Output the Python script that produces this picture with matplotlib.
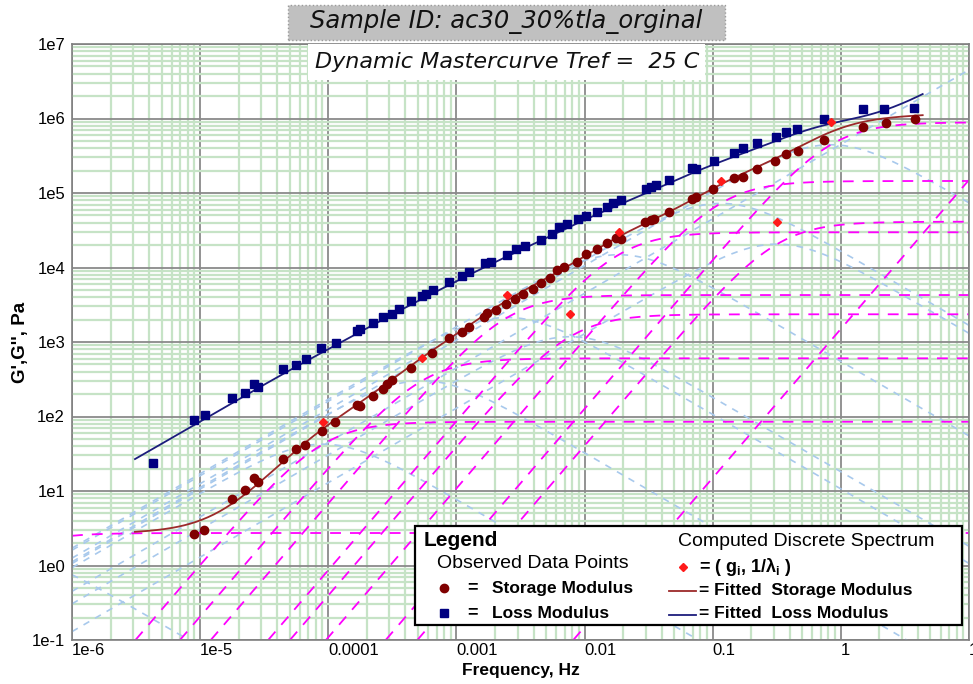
import numpy as np
import matplotlib
matplotlib.use("Agg")
import matplotlib.pyplot as plt
from matplotlib.patches import Rectangle
from matplotlib.lines import Line2D
from matplotlib.ticker import FixedLocator, FixedFormatter, LogLocator, NullFormatter

# ---------------- data ----------------
loss_freq = [4.31e-6, 8.97e-6, 1.09e-5, 1.77e-5, 2.22e-5, 2.64e-5, 2.81e-5, 4.43e-5, 5.62e-5, 6.65e-5,
             8.81e-5, 1.14e-4, 1.69e-4, 1.78e-4, 2.22e-4, 2.67e-4, 3.15e-4, 3.54e-4, 4.45e-4, 5.40e-4,
             5.84e-4, 6.58e-4, 8.81e-4, 1.11e-3, 1.25e-3, 1.66e-3, 1.85e-3, 2.46e-3, 2.94e-3, 3.40e-3,
             4.53e-3, 5.60e-3, 6.30e-3, 7.33e-3, 8.87e-3, 1.02e-2, 1.26e-2, 1.49e-2, 1.67e-2, 1.91e-2,
             3.00e-2, 3.28e-2, 3.59e-2, 4.56e-2, 6.93e-2, 7.36e-2, 0.102, 0.147, 0.171, 0.223,
             0.310, 0.372, 0.453, 0.741, 1.48, 2.18, 3.74]
loss_mod = [24.0, 89.8, 105, 179, 205, 270, 247, 430, 491, 597,
            823, 961, 1419, 1510, 1816, 2146, 2355, 2748, 3581, 4143,
            4406, 4989, 6383, 7690, 8630, 11400, 11750, 14700, 17700, 19400,
            23400, 27900, 35300, 38000, 44400, 49100, 56100, 65500, 72800, 80500,
            113000, 122000, 128000, 149000, 215000, 208000, 271000, 347000, 398000, 473000,
            570000, 665000, 723000, 976000, 1.33e6, 1.34e6, 1.37e6]

storage_freq = [8.88e-6, 1.08e-5, 1.77e-5, 2.22e-5, 2.65e-5, 2.83e-5, 4.45e-5, 5.62e-5, 6.64e-5, 8.87e-5,
                1.12e-4, 1.69e-4, 1.78e-4, 2.22e-4, 2.67e-4, 2.88e-4, 3.15e-4, 4.45e-4, 6.46e-4, 8.81e-4,
                1.11e-3, 1.25e-3, 1.63e-3, 1.74e-3, 2.02e-3, 2.42e-3, 2.84e-3, 3.28e-3, 3.93e-3, 4.61e-3,
                5.42e-3, 6.12e-3, 6.89e-3, 8.77e-3, 1.02e-2, 1.24e-2, 1.49e-2, 1.75e-2, 1.91e-2, 2.96e-2,
                3.28e-2, 3.47e-2, 4.56e-2, 6.93e-2, 7.36e-2, 0.101, 0.147, 0.171, 0.223, 0.305,
                0.372, 0.459, 0.741, 1.48, 2.25, 3.78]
storage_mod = [2.65, 3.00, 7.74, 10.3, 14.9, 13.3, 27.2, 37.0, 41.4, 63.3,
               84.4, 143, 140, 190, 232, 273, 309, 452, 718, 1122,
               1374, 1604, 2146, 2427, 2690, 3236, 3776, 4406, 5145, 6194,
               7161, 9250, 10300, 12000, 15200, 17500, 21100, 24700, 23900, 40400,
               43400, 45200, 56100, 83000, 88300, 113000, 157000, 166000, 208000, 269000,
               334000, 366000, 514000, 776000, 863000, 976000]

# computed discrete spectrum (g_i, 1/lambda_i)
spec_freq = [3.0e-7, 9.1e-5, 5.4e-4, 2.5e-3, 7.7e-3, 1.85e-2, 0.1155, 0.318, 0.836, 300.0]
spec_g = [2.73, 85, 604, 4270, 2355, 29700, 145000, 41200, 889000, 1.35e8]

fit_freq_range = [3.1e-6, 4.35]

xtick_vals = [1e-6, 1e-5, 1e-4, 1e-3, 1e-2, 1e-1, 1, 10]
xtick_labels = ["1e-6", "1e-5", "0.0001", "0.001", "0.01", "0.1", "1", "10"]
ytick_vals = [1e-1, 1e0, 1e1, 1e2, 1e3, 1e4, 1e5, 1e6, 1e7]
ytick_labels = ["1e-1", "1e0", "1e1", "1e2", "1e3", "1e4", "1e5", "1e6", "1e7"]

title_text = "Sample ID: ac30_30%tla_orginal"
subtitle_text = "Dynamic Mastercurve Tref =  25 C"
xlabel_text = "Frequency, Hz"
ylabel_text = "G',G'', Pa"

# ---------------- figure ----------------
W, H = 973, 684
fig = plt.figure(figsize=(W / 100, H / 100), dpi=100)
fig.patch.set_facecolor("white")


def fx(x):
    return x / W


def fy(y):
    return 1 - y / H


ax = fig.add_axes([fx(72), fy(640), (969 - 72) / W, (640 - 44) / H])
ax.set_xscale("log")
ax.set_yscale("log")
ax.set_xlim(1e-6, 10)
ax.set_ylim(0.1, 1e7)

ax.xaxis.set_major_locator(FixedLocator(xtick_vals))
ax.xaxis.set_major_formatter(FixedFormatter(xtick_labels))
ax.yaxis.set_major_locator(FixedLocator(ytick_vals))
ax.yaxis.set_major_formatter(FixedFormatter(ytick_labels))
ax.xaxis.set_minor_locator(LogLocator(base=10, subs=np.arange(2, 10), numticks=100))
ax.yaxis.set_minor_locator(LogLocator(base=10, subs=np.arange(2, 10), numticks=100))
ax.xaxis.set_minor_formatter(NullFormatter())
ax.yaxis.set_minor_formatter(NullFormatter())
ax.set_axisbelow(True)
ax.grid(which="minor", color="#c6e3c6", lw=1.6)
ax.grid(which="major", color="#8a8a8a", lw=1.3)
ax.tick_params(which="both", length=0)
ax.tick_params(axis="x", pad=2, labelsize=12)
ax.tick_params(axis="y", pad=5, labelsize=12)
for lbl in ax.get_xticklabels():
    lbl.set_horizontalalignment("left")
    lbl.set_fontfamily("Liberation Sans")
for lbl in ax.get_yticklabels():
    lbl.set_fontfamily("Liberation Sans")
for s in ax.spines.values():
    s.set_color("#808080")
    s.set_linewidth(1.2)

# individual Maxwell mode contributions
f_all = np.logspace(-6, 1, 500)
for g, fi in zip(spec_g, spec_freq):
    r = f_all / fi
    ax.plot(f_all, g * r / (1 + r ** 2), color="#a8c9ec", lw=1.2, ls=(0, (4, 4)), zorder=2)
for g, fi in zip(spec_g, spec_freq):
    r = f_all / fi
    ax.plot(f_all, g * r ** 2 / (1 + r ** 2), color="#ff00ff", lw=1.3, ls=(0, (6, 5)), zorder=2.2)

# fitted curves = sum of modes
ff = np.logspace(np.log10(fit_freq_range[0]), np.log10(fit_freq_range[1]), 400)
gp_fit = np.zeros_like(ff)
gpp_fit = np.zeros_like(ff)
for g, fi in zip(spec_g, spec_freq):
    r = ff / fi
    gp_fit += g * r ** 2 / (1 + r ** 2)
    gpp_fit += g * r / (1 + r ** 2)
ax.plot(ff, gp_fit, color="#9c2a2a", lw=1.3, zorder=3)
ax.plot(ff, gpp_fit, color="#1c1c7c", lw=1.3, zorder=3)

# observed data
ax.plot(storage_freq, storage_mod, ls="none", marker="o", ms=6, color="#800000", zorder=4)
ax.plot(loss_freq, loss_mod, ls="none", marker="s", ms=6.3, color="#000080", zorder=4)
ax.plot(spec_freq, spec_g, ls="none", marker="D", ms=4.2, color="#ff1a1a", zorder=5)

ax.set_xlabel(xlabel_text, fontsize=12.5, fontweight="bold", family="Liberation Sans", labelpad=4)
ax.set_ylabel(ylabel_text, fontsize=13.5, fontweight="bold", family="Liberation Sans", labelpad=2)

# ---------------- title boxes ----------------
fig.patches.append(Rectangle((fx(288), fy(40)), (725 - 288) / W, 35 / H, transform=fig.transFigure,
                             facecolor="#c0c0c0", edgecolor="#9a9a9a", lw=1, ls=":", zorder=5))
fig.text(fx(506), fy(22), title_text, ha="center", va="center", fontsize=17.5,
         style="italic", family="DejaVu Sans", color="#111111", zorder=6)

fig.patches.append(Rectangle((fx(308), fy(80)), (705 - 308) / W, 36 / H, transform=fig.transFigure,
                             facecolor="white", edgecolor="none", zorder=5))
fig.text(fx(507), fy(62), subtitle_text, ha="center", va="center", fontsize=16,
         style="italic", family="DejaVu Sans", color="#111111", zorder=6)

# ---------------- legend box ----------------
fig.patches.append(Rectangle((fx(415), fy(625)), (962 - 415) / W, (625 - 526) / H, transform=fig.transFigure,
                             facecolor="white", edgecolor="black", lw=1.6, zorder=7))
tk = dict(transform=fig.transFigure, zorder=8, family="Liberation Sans", va="center")
fig.text(fx(424), fy(540), "Legend", fontsize=15, fontweight="bold", **tk)
fig.text(fx(437), fy(563), "Observed Data Points", fontsize=14, **tk)
fig.text(fx(467), fy(588), "=", fontsize=13, fontweight="bold", **tk)
fig.text(fx(492), fy(588), "Storage Modulus", fontsize=12.5, fontweight="bold", **tk)
fig.text(fx(467), fy(613), "=", fontsize=13, fontweight="bold", **tk)
fig.text(fx(492), fy(613), "Loss Modulus", fontsize=12.5, fontweight="bold", **tk)
fig.text(fx(678), fy(542), "Computed Discrete Spectrum", fontsize=14, **tk)
fig.text(fx(699), fy(567), "= ( g$_\\mathregular{i}$, 1/λ$_\\mathregular{i}$ )", fontsize=13, fontweight="bold", **tk)
fig.text(fx(699), fy(590), "= Fitted  Storage Modulus", fontsize=12.5, fontweight="bold", **tk)
fig.text(fx(699), fy(614), "= Fitted  Loss Modulus", fontsize=12.5, fontweight="bold", **tk)

fig.add_artist(Line2D([fx(444)], [fy(588)], marker="o", ms=6, color="#800000", ls="none",
                      transform=fig.transFigure, zorder=8))
fig.add_artist(Line2D([fx(444)], [fy(613)], marker="s", ms=6, color="#000080", ls="none",
                      transform=fig.transFigure, zorder=8))
fig.add_artist(Line2D([fx(683)], [fy(567)], marker="D", ms=4.2, color="#ff1a1a", ls="none",
                      transform=fig.transFigure, zorder=8))
fig.add_artist(Line2D([fx(669), fx(696)], [fy(591), fy(591)], color="#9c2a2a", lw=1.3,
                      transform=fig.transFigure, zorder=8))
fig.add_artist(Line2D([fx(669), fx(696)], [fy(615), fy(615)], color="#1c1c7c", lw=1.3,
                      transform=fig.transFigure, zorder=8))

fig.savefig("out.png", dpi=100)
